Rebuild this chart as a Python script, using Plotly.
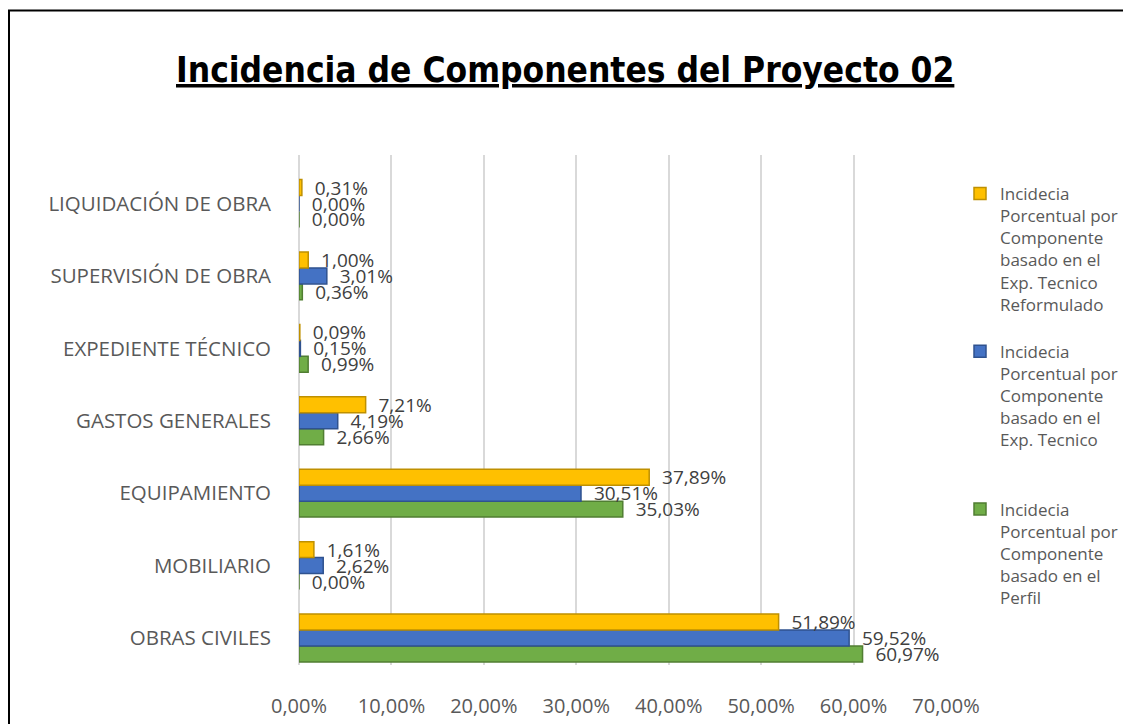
import plotly.graph_objects as go

categories = ["OBRAS CIVILES", "MOBILIARIO", "EQUIPAMIENTO", "GASTOS GENERALES",
              "EXPEDIENTE TÉCNICO", "SUPERVISIÓN DE OBRA", "LIQUIDACIÓN DE OBRA"]
perfil = [60.97, 0.00, 35.03, 2.66, 0.99, 0.36, 0.00]
exp_tecnico = [59.52, 2.62, 30.51, 4.19, 0.15, 3.01, 0.00]
reformulado = [51.89, 1.61, 37.89, 7.21, 0.09, 1.00, 0.31]

name_perfil = "Incidecia<br>Porcentual por<br>Componente<br>basado en el<br>Perfil"
name_exp = "Incidecia<br>Porcentual por<br>Componente<br>basado en el<br>Exp. Tecnico<br> <br> "
name_ref = "Incidecia<br>Porcentual por<br>Componente<br>basado en el<br>Exp. Tecnico<br>Reformulado<br> "

# page offset (browser body margin)
OFF = 8
W, H = 1131 - OFF, 724 - OFF
L, R, T, B = 299 - OFF, 946 - OFF, 155 - OFF, 665 - OFF
FONT = "'Open Sans', 'Noto Sans', sans-serif"
TITLE_FONT = "'Liberation Sans Narrow', 'DejaVu Sans Condensed', 'Open Sans', sans-serif"

series = [
    (perfil, name_perfil, "#70AD47", "#507E32"),
    (exp_tecnico, name_exp, "#4472C4", "#2F528F"),
    (reformulado, name_ref, "#FFC000", "#BF9000"),
]

fig = go.Figure()
for vals, name, col, edge in series:
    fig.add_trace(go.Bar(
        y=categories, x=vals, orientation="h", name=name,
        marker=dict(color=col, line=dict(color=edge, width=1.5)),
        texttemplate="\u00a0\u00a0%{x:.2f}%", textposition="outside",
        constraintext="none", cliponaxis=False,
        textfont=dict(family=FONT, size=19, color="#404040"),
        hoverinfo="skip",
    ))

def px(xpage, ypage):
    xf, yf = xpage - OFF, ypage - OFF
    return (xf - L) / (R - L), (B - yf) / (B - T)

bx0, by0 = px(9, 760)
bx1, by1 = px(1160, 10.5)

fig.update_layout(
    width=W, height=H,
    margin=dict(l=L, r=W - R, t=T, b=H - B, autoexpand=False),
    paper_bgcolor="white", plot_bgcolor="white",
    barmode="group", bargap=0.34, bargroupgap=0,
    separators=",.",
    showlegend=True,
    legend=dict(traceorder="reversed", xref="container", yref="container",
                x=(960 - OFF) / W, xanchor="left", y=1 - (176 - OFF) / H, yanchor="top",
                valign="top", itemwidth=30, bgcolor="rgba(0,0,0,0)", maxheight=640,
                font=dict(family=FONT, size=17, color="#595959")),
    xaxis=dict(range=[0, 70], dtick=10, tickformat=".2f", ticksuffix="%",
               showgrid=True, gridcolor="#D9D9D9", gridwidth=2,
               zeroline=True, zerolinecolor="#D9D9D9", zerolinewidth=2,
               showline=False, ticks="", ticklabelstandoff=27,
               tickfont=dict(family=FONT, size=20, color="#595959")),
    yaxis=dict(type="category", range=[-0.373, 6.67], showgrid=False, zeroline=False,
               showline=False, ticks="", ticklabelstandoff=27,
               tickfont=dict(family=FONT, size=20.5, color="#595959")),
    annotations=[dict(text="<b><u>Incidencia de Componentes del Proyecto 02</u></b>",
                      xref="paper", yref="paper", x=px(565, 0)[0], y=px(0, 70)[1],
                      xanchor="center", yanchor="middle", showarrow=False,
                      font=dict(family=TITLE_FONT, size=35, color="black"))],
    shapes=[dict(type="rect", xref="paper", yref="paper", x0=bx0, x1=bx1, y0=by0, y1=by1,
                 line=dict(color="black", width=2), fillcolor="rgba(0,0,0,0)", layer="below")],
)

fig.write_html("out.html")
